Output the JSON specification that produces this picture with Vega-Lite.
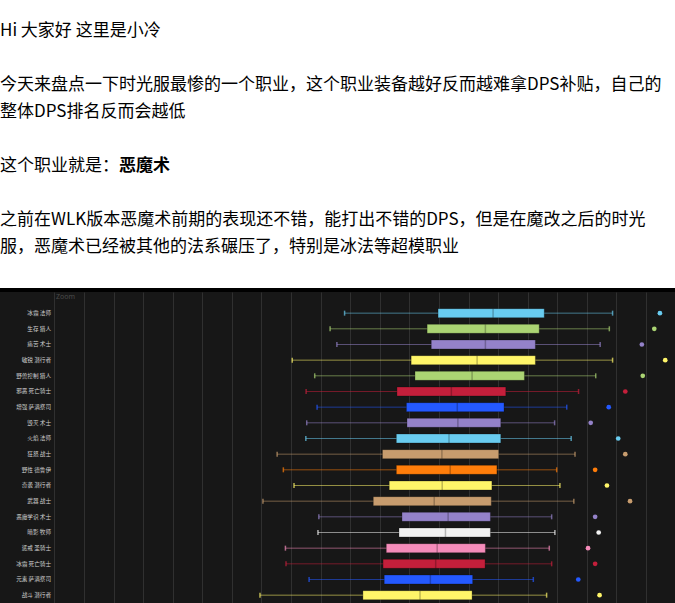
{
  "$schema": "https://vega.github.io/schema/vega-lite/v6.json",
  "padding": 0,
  "background": "#ffffff",
  "spacing": 0,
  "config": {
    "view": {"stroke": null},
    "axisX": {"grid": true, "gridColor": "#303030", "gridWidth": 1, "gridOpacity": 1, "labels": false, "ticks": false, "domain": false, "title": null}
  },
  "vconcat": [
    {
      "width": 675,
      "height": 288,
      "data": {"values": [
        {"line": 0, "text": "Hi 大家好 这里是小冷"},
        {"line": 2, "text": "今天来盘点一下时光服最惨的一个职业，这个职业装备越好反而越难拿DPS补贴，自己的"},
        {"line": 3, "text": "整体DPS排名反而会越低"},
        {"line": 5, "text": "这个职业就是："},
        {"line": 7, "text": "之前在WLK版本恶魔术前期的表现还不错，能打出不错的DPS，但是在魔改之后的时光"},
        {"line": 8, "text": "服，恶魔术已经被其他的法系碾压了，特别是冰法等超模职业"}
      ]},
      "encoding": {
        "x": {"datum": 0, "type": "quantitative", "scale": {"domain": [0, 1], "nice": false, "zero": false}, "axis": null},
        "y": {"field": "line", "type": "quantitative", "scale": {"domain": [-1.1295, 9.525], "reverse": true, "nice": false, "zero": false}, "axis": null},
        "text": {"field": "text"}
      },
      "layer": [
        {"mark": {"type": "text", "align": "left", "baseline": "middle", "font": "Noto Sans CJK SC", "fontSize": 17, "color": "#000000", "clip": true}},
        {
          "data": {"values": [{"line": 5, "text": "恶魔术"}]},
          "mark": {"type": "text", "align": "left", "baseline": "middle", "font": "Noto Sans CJK SC", "fontSize": 17, "fontWeight": "bold", "color": "#000000", "dx": 119, "clip": true}
        }
      ]
    },
    {
      "width": 675,
      "height": 4,
      "view": {"fill": "#000000", "stroke": null},
      "data": {"values": []},
      "mark": "point",
      "encoding": {}
    },
    {
      "width": 675,
      "height": 311,
      "view": {"fill": "#171717", "stroke": null},
      "title": {"text": "Zoom", "anchor": "start", "frame": "group", "offset": -8, "dx": 56, "fontSize": 7, "fontWeight": "normal", "font": "Noto Sans", "color": "#4a4a4a"},
      "data": {"values": [
        {"label": "冰霜 法师", "class": "法师", "lo": 9810, "q1": 12970, "med": 14830, "q3": 16560, "hi": 18870, "out": 20470},
        {"label": "生存 猎人", "class": "猎人", "lo": 9320, "q1": 12600, "med": 14570, "q3": 16390, "hi": 18760, "out": 20280},
        {"label": "痛苦 术士", "class": "术士", "lo": 9550, "q1": 12740, "med": 14570, "q3": 16260, "hi": 18450, "out": 19860},
        {"label": "敏锐 潜行者", "class": "潜行者", "lo": 8040, "q1": 12060, "med": 14290, "q3": 16260, "hi": 18870, "out": 20650},
        {"label": "野兽控制 猎人", "class": "猎人", "lo": 8800, "q1": 12190, "med": 14120, "q3": 15890, "hi": 18300, "out": 19890},
        {"label": "邪恶 死亡骑士", "class": "死亡骑士", "lo": 8510, "q1": 11580, "med": 13420, "q3": 15260, "hi": 17720, "out": 19300},
        {"label": "增强 萨满祭司", "class": "萨满祭司", "lo": 8880, "q1": 11900, "med": 13620, "q3": 15200, "hi": 17320, "out": 18740},
        {"label": "毁灭 术士", "class": "术士", "lo": 8530, "q1": 11920, "med": 13640, "q3": 15090, "hi": 16910, "out": 18130},
        {"label": "火焰 法师", "class": "法师", "lo": 8500, "q1": 11560, "med": 13340, "q3": 15090, "hi": 17470, "out": 19060},
        {"label": "狂怒 战士", "class": "战士", "lo": 7530, "q1": 11090, "med": 13100, "q3": 15020, "hi": 17600, "out": 19300},
        {"label": "野性 德鲁伊", "class": "德鲁伊", "lo": 7740, "q1": 11560, "med": 13380, "q3": 14960, "hi": 16980, "out": 18280},
        {"label": "奇袭 潜行者", "class": "潜行者", "lo": 8100, "q1": 11320, "med": 13110, "q3": 14790, "hi": 17090, "out": 18680},
        {"label": "武器 战士", "class": "战士", "lo": 7050, "q1": 10780, "med": 12840, "q3": 14770, "hi": 17560, "out": 19460},
        {"label": "恶魔学识 术士", "class": "术士", "lo": 8940, "q1": 11750, "med": 13310, "q3": 14740, "hi": 16810, "out": 18280},
        {"label": "暗影 牧师", "class": "牧师", "lo": 8910, "q1": 11650, "med": 13220, "q3": 14740, "hi": 16920, "out": 18400},
        {"label": "惩戒 圣骑士", "class": "圣骑士", "lo": 7810, "q1": 11220, "med": 12940, "q3": 14570, "hi": 16730, "out": 18040},
        {"label": "冰霜 死亡骑士", "class": "死亡骑士", "lo": 7830, "q1": 11110, "med": 12890, "q3": 14560, "hi": 16810, "out": 18280},
        {"label": "元素 萨满祭司", "class": "萨满祭司", "lo": 8610, "q1": 11150, "med": 12710, "q3": 14140, "hi": 16190, "out": 17710},
        {"label": "战斗 潜行者", "class": "潜行者", "lo": 6950, "q1": 10430, "med": 12360, "q3": 14120, "hi": 16640, "out": 18430}
      ]},
      "encoding": {
        "y": {"field": "label", "type": "nominal", "sort": null, "axis": null, "scale": {"paddingInner": 0, "paddingOuter": 0.425, "align": 1}},
        "color": {
          "field": "class", "type": "nominal", "legend": null,
          "scale": {
            "domain": ["法师", "猎人", "术士", "潜行者", "死亡骑士", "萨满祭司", "战士", "德鲁伊", "牧师", "圣骑士"],
            "range": ["#69CCF0", "#ABD473", "#9482C9", "#FFF569", "#C41F3B", "#2459FF", "#C79C6E", "#FF7D0A", "#F2F2F2", "#F58CBA"]
          }
        }
      },
      "layer": [
        {
          "mark": {"type": "rule", "strokeWidth": 1, "opacity": 0.55},
          "encoding": {
            "x": {"field": "lo", "type": "quantitative",
                  "scale": {"domain": [-1839, 20980], "nice": false, "zero": false},
                  "axis": {"values": [0, 1000, 2000, 3000, 4000, 5000, 6000, 7000, 8000, 9000, 10000, 11000, 12000, 13000, 14000, 15000, 16000, 17000, 18000, 19000, 20000], "title": null}},
            "x2": {"field": "hi"}
          }
        },
        {
          "mark": {"type": "tick", "size": 5, "thickness": 1.5},
          "encoding": {"x": {"field": "lo", "type": "quantitative", "scale": {"domain": [-1839, 20980], "nice": false, "zero": false}, "axis": {"values": [0, 1000, 2000, 3000, 4000, 5000, 6000, 7000, 8000, 9000, 10000, 11000, 12000, 13000, 14000, 15000, 16000, 17000, 18000, 19000, 20000], "title": null}}}
        },
        {
          "mark": {"type": "tick", "size": 5, "thickness": 1.5},
          "encoding": {"x": {"field": "hi", "type": "quantitative", "scale": {"domain": [-1839, 20980], "nice": false, "zero": false}, "axis": {"values": [0, 1000, 2000, 3000, 4000, 5000, 6000, 7000, 8000, 9000, 10000, 11000, 12000, 13000, 14000, 15000, 16000, 17000, 18000, 19000, 20000], "title": null}}}
        },
        {
          "mark": {"type": "bar", "size": 9, "stroke": "#000000", "strokeOpacity": 0.25, "strokeWidth": 1, "opacity": 1},
          "encoding": {
            "x": {"field": "q1", "type": "quantitative", "scale": {"domain": [-1839, 20980], "nice": false, "zero": false}, "axis": {"values": [0, 1000, 2000, 3000, 4000, 5000, 6000, 7000, 8000, 9000, 10000, 11000, 12000, 13000, 14000, 15000, 16000, 17000, 18000, 19000, 20000], "title": null}},
            "x2": {"field": "q3"}
          }
        },
        {
          "mark": {"type": "tick", "size": 9, "thickness": 1.5, "opacity": 0.25},
          "encoding": {
            "x": {"field": "med", "type": "quantitative", "scale": {"domain": [-1839, 20980], "nice": false, "zero": false}, "axis": {"values": [0, 1000, 2000, 3000, 4000, 5000, 6000, 7000, 8000, 9000, 10000, 11000, 12000, 13000, 14000, 15000, 16000, 17000, 18000, 19000, 20000], "title": null}},
            "color": {"value": "#000000"}
          }
        },
        {
          "mark": {"type": "point", "filled": true, "size": 22, "opacity": 1},
          "encoding": {"x": {"field": "out", "type": "quantitative", "scale": {"domain": [-1839, 20980], "nice": false, "zero": false}, "axis": {"values": [0, 1000, 2000, 3000, 4000, 5000, 6000, 7000, 8000, 9000, 10000, 11000, 12000, 13000, 14000, 15000, 16000, 17000, 18000, 19000, 20000], "title": null}}}
        },
        {
          "mark": {"type": "text", "align": "right", "baseline": "middle", "font": "Noto Sans CJK SC", "fontSize": 5.6},
          "encoding": {
            "x": {"datum": -115, "type": "quantitative", "scale": {"domain": [-1839, 20980], "nice": false, "zero": false}, "axis": {"values": [0, 1000, 2000, 3000, 4000, 5000, 6000, 7000, 8000, 9000, 10000, 11000, 12000, 13000, 14000, 15000, 16000, 17000, 18000, 19000, 20000], "title": null}},
            "text": {"field": "label"},
            "color": {"value": "#cfcfcf"}
          }
        }
      ]
    }
  ]
}
